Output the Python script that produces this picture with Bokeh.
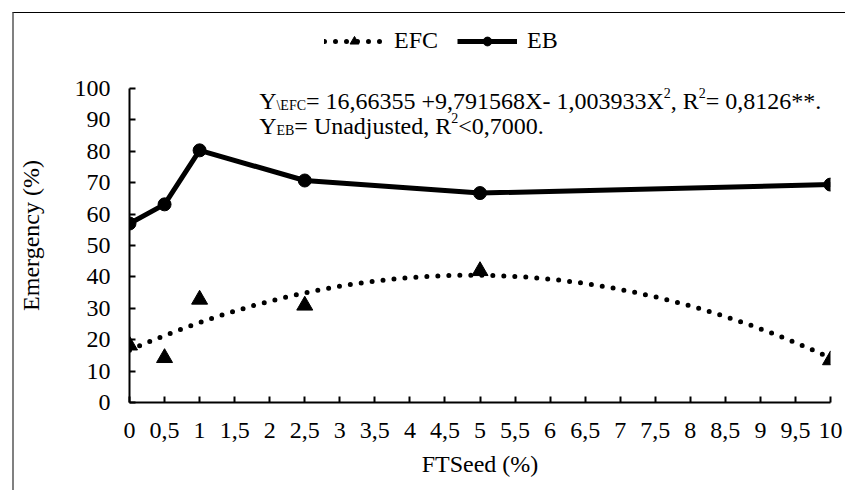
import numpy as np
from bokeh.plotting import figure
from bokeh.models import Range1d, FixedTicker, Legend, LegendItem, Label
from bokeh.embed import file_html
from bokeh.resources import INLINE

# ---------------- data ----------------
ftseed = [0, 0.5, 1, 2.5, 5, 10]
efc = [18.2, 14.2, 32.8, 30.9, 41.9, 13.5]
eb = [57.0, 63.1, 80.3, 70.7, 66.7, 69.4]
# regression shown on the chart: Y = 16,66355 + 9,791568X - 1,003933X^2
efc_coef = [16.66355, 9.791568, -1.003933]

x_ticks = [0, 0.5, 1, 1.5, 2, 2.5, 3, 3.5, 4, 4.5, 5, 5.5, 6, 6.5, 7, 7.5, 8, 8.5, 9, 9.5, 10]
x_tick_labels = ["0", "0,5", "1", "1,5", "2", "2,5", "3", "3,5", "4", "4,5", "5",
                 "5,5", "6", "6,5", "7", "7,5", "8", "8,5", "9", "9,5", "10"]
y_ticks = [0, 10, 20, 30, 40, 50, 60, 70, 80, 90, 100]

FONT = "'Liberation Serif'"

# ---------------- layout ----------------
OX, OY = 14, 13              # canvas offset in window (after css border/margin)
W, H = 833, 478
FL, FR, FT, FB = 127, 830, 88, 402   # axis extents in window px
FTOP = 20                            # frame top (room for the legend)
px_per_x = (FR - FL) / 10.0
px_per_y = (FB - FT) / 100.0
y_top = 100 + (FT - FTOP) / px_per_y

p = figure(width=W, height=H, output_backend="svg", toolbar_location=None,
           x_range=Range1d(0, 10), y_range=Range1d(0, y_top),
           min_border_left=FL - OX, min_border_right=W - (FR - OX),
           min_border_top=FTOP - OY, min_border_bottom=H - (FB - OY))
p.styles = {"border-left": "2px solid #808080", "border-top": "1px solid #000000",
            "margin-left": "12px", "margin-top": "12px"}
p.outline_line_color = None
p.xgrid.visible = False
p.ygrid.visible = False
p.background_fill_color = "white"

for ax in (p.xaxis[0], p.yaxis[0]):
    ax.axis_line_width = 2
    ax.axis_line_color = "black"
    ax.major_tick_line_width = 2
    ax.major_tick_line_color = "black"
    ax.major_tick_in = 6
    ax.major_tick_out = 0
    ax.minor_tick_line_color = None
    ax.major_label_text_font = FONT
    ax.major_label_text_font_size = "24px"
    ax.major_label_text_color = "black"
    ax.axis_label_text_font = FONT
    ax.axis_label_text_font_size = "24px"
    ax.axis_label_text_font_style = "normal"
    ax.axis_label_text_color = "black"

p.xaxis.ticker = FixedTicker(ticks=x_ticks)
p.xaxis.major_label_overrides = {t: l for t, l in zip(x_ticks, x_tick_labels)}
p.xaxis.axis_label = "FTSeed (%)"
p.xaxis.major_label_standoff = 20
p.xaxis.axis_label_standoff = 10

p.yaxis.ticker = FixedTicker(ticks=y_ticks)
p.yaxis.bounds = (0, 100)
# trailing no-break spaces keep the title centred on the 0-100 part of the axis
p.yaxis.axis_label = "Emergency (%)" + "\u00a0" * 8
p.yaxis.major_label_standoff = 19
p.yaxis.axis_label_standoff = 28

# ---------------- glyphs ----------------
xs = np.linspace(0, 10, 201)
ys = efc_coef[0] + efc_coef[1] * xs + efc_coef[2] * xs ** 2
trend = p.line(xs, ys, line_color="black", line_width=5, line_dash="0 11",
               line_cap="round")
tri = p.scatter(ftseed, efc, marker="triangle", size=16, fill_color="black",
                line_color="black")
ebl = p.line(ftseed, eb, line_color="black", line_width=5, line_join="round")
ebc = p.scatter(ftseed, eb, marker="circle", size=13, fill_color="black",
                line_color="black")

legend = Legend(items=[LegendItem(label="EFC", renderers=[trend, tri]),
                       LegendItem(label="EB", renderers=[ebl, ebc])],
                orientation="horizontal", location=(322 - FL, FB - 54),
                glyph_width=60, glyph_height=22, label_standoff=10, spacing=19,
                padding=0, margin=0, border_line_color=None,
                background_fill_alpha=0, label_text_font=FONT,
                label_text_font_size="24px", label_text_color="black")
p.add_layout(legend)

# ---------------- equation text ----------------
TW = {' ': 250, '!': 333, '%': 833, '(': 333, ')': 333, '*': 500, '+': 564, ',': 250,
      '-': 333, '.': 250, '\\': 278, '<': 564, '=': 564, '0': 500, '1': 500, '2': 500,
      '3': 500, '4': 500, '5': 500, '6': 500, '7': 500, '8': 500, '9': 500,
      'B': 667, 'C': 667, 'E': 611, 'F': 556, 'R': 667, 'U': 722, 'X': 722, 'Y': 722,
      'a': 444, 'd': 500, 'e': 444, 'j': 278, 'n': 500, 's': 389, 't': 278, 'u': 500}


def tw(s, size):
    return sum(TW.get(c, 500) for c in s) / 1000.0 * size


BIG, SMALL = 24, 14
x0 = (257 - FL) / px_per_x


def eq_line(parts, baseline_px):
    y = (FB - baseline_px) / px_per_y
    off = 0.0
    for text, kind in parts:
        size = BIG if kind == "n" else SMALL
        dy = 0 if kind == "n" else (-5 if kind == "sub" else 8)
        p.add_layout(Label(x=x0, y=y, x_offset=off, y_offset=dy, text=text,
                           text_font=FONT, text_font_size=f"{size}px",
                           text_color="black", text_baseline="alphabetic",
                           text_align="left"))
        off += tw(text, size)


eq_line([("Y", "n"), ("\\EFC", "sub"), ("= 16,66355 +9,791568X- 1,003933X", "n"),
         ("2", "sup"), (", R", "n"), ("2", "sup"), ("= 0,8126**.", "n")], 100)
eq_line([("Y", "n"), ("EB", "sub"), ("= Unadjusted, R", "n"), ("2", "sup"),
         ("<0,7000.", "n")], 125)

open("out.html", "w").write(file_html(p, INLINE))
